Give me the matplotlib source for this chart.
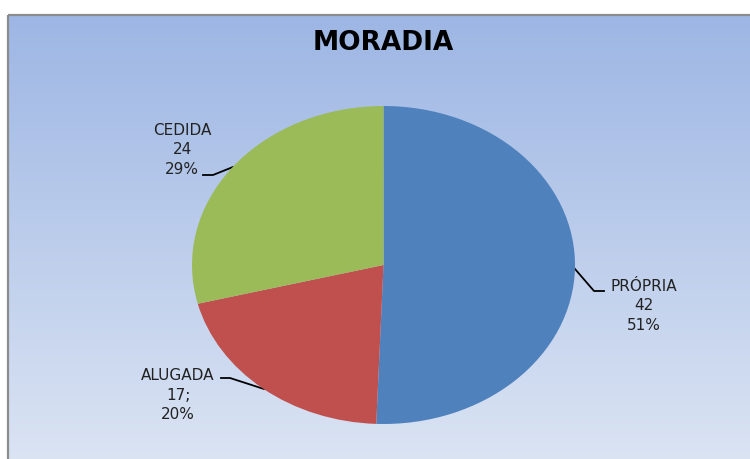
import numpy as np
import matplotlib
matplotlib.use("Agg")
import matplotlib.pyplot as plt
from matplotlib.patches import Rectangle

title = "MORADIA"
categories = ["PRÓPRIA", "ALUGADA", "CEDIDA"]
values = [42, 17, 24]
separators = ["", ";", ""]
colors = ["#4F81BD", "#C0504D", "#9BBB59"]

W, H = 750, 459
fig = plt.figure(figsize=(W / 100, H / 100), dpi=100)
fig.patch.set_facecolor("white")

# background gradient axes (pixel coordinates)
bg = fig.add_axes([0, 0, 1, 1])
bg.set_xlim(0, W)
bg.set_ylim(H, 0)
bg.axis("off")
top = np.array([157, 182, 228]) / 255
bot = np.array([219, 228, 243]) / 255
t = np.linspace(0, 1, 256)[:, None, None]
grad = top + (bot - top) * t
grad = np.repeat(grad, 2, axis=1)
bg.imshow(grad, extent=[8, W + 5, H + 5, 15], aspect="auto", zorder=0)
bg.add_patch(Rectangle((7.5, 14.5), W, H, fill=False, edgecolor="#8c8c8c", lw=1.6, zorder=1))

bg.text(383, 43, title, ha="center", va="center", fontsize=19, fontweight="bold",
        family=["DejaVu Sans"], color="black", zorder=3)

# pie axes mapped to ellipse
cx0, cx1 = 192, 575
cy0, cy1 = 106, 424
pax = fig.add_axes([cx0 / W, 1 - cy1 / H, (cx1 - cx0) / W, (cy1 - cy0) / H])
pax.pie(values, colors=colors, startangle=90, counterclock=False, radius=1,
        wedgeprops=dict(edgecolor="none"))
pax.set_aspect("auto")
pax.set_xlim(-1, 1)
pax.set_ylim(-1, 1)
pax.axis("off")

total = sum(values)
label_pos = [(644, 306), (178, 395), (182, 150)]
leaders = [
    [(575, 269), (594, 291), (604, 291)],
    [(264, 389), (230, 378), (221, 378)],
    [(233, 167), (213, 175), (203, 175)],
]
for cat, v, sep, (lx, ly), ld in zip(categories, values, separators, label_pos, leaders):
    pct = round(100 * v / total)
    bg.text(lx, ly, f"{cat}\n{v}{sep}\n{pct}%", ha="center", va="center",
            fontsize=11, family=["DejaVu Sans"], color="#222222",
            linespacing=1.4, zorder=3)
    xs, ys = zip(*ld)
    bg.plot(xs, ys, color="black", lw=1.3, zorder=3)

fig.savefig("out.png", dpi=100)
